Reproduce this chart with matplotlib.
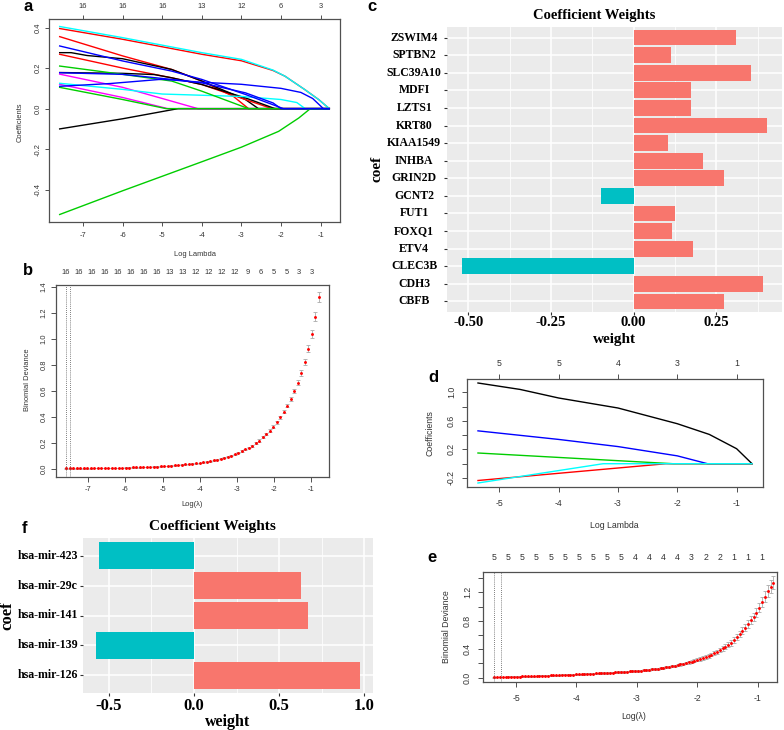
import numpy as np
from matplotlib import pyplot as plt

plt.rcParams['font.family'] = ['Liberation Sans', 'DejaVu Sans']
plt.rcParams['axes.unicode_minus'] = False

W, H = 784, 730

# ---------------- panel a: lasso coefficient paths (mRNA) ----------------
a_loglam = [
    [-7.59, -6, -4.76, -4, -3.2, -2.82],
    [-7.59, -7.3, -6.9, -6, -4.76, -4, -2.9, -2.57],
    [-7.59, -6, -4.76, -4, -2.9, -2.23],
    [-7.59, -6, -5.2, -4.76, -4, -2.9, -2.15],
    [-7.59, -6, -5, -4.1],
    [-7.59, -6, -4.86],
    [-7.59, -6, -5, -3, -2, -1.6, -1.39],
    [-7.59, -6, -4.6],
    [-7.59, -6, -4, -3, -2.2, -1.9, -1.4, -1.05, -0.78],
    [-7.59, -6, -4, -3, -2.2, -1.9, -1.4, -1.05, -0.78],
    [-7.59, -6, -4.9],
    [-7.59, -6, -4.76, -4, -2.82],
    [-7.59, -6, -4, -3, -2.06, -1.55, -1.26],
    [-7.59, -6, -4.76, -4, -2.9, -1.94],
    [-7.59, -6, -4.76, -4, -2.9, -2.2, -2.0],
    [-7.59, -6.3, -5, -4, -3, -2, -1.5, -1.2, -0.93],
]
a_coef = [
    [0.355, 0.26, 0.193, 0.136, 0.06, 0],
    [0.276, 0.276, 0.262, 0.246, 0.193, 0.136, 0.045, 0],
    [0.268, 0.2, 0.152, 0.119, 0.045, 0],
    [0.178, 0.174, 0.168, 0.152, 0.119, 0.053, 0],
    [0.17, 0.105, 0.05, 0],
    [0.12, 0.055, 0],
    [0.125, 0.095, 0.072, 0.06, 0.045, 0.03, 0],
    [-0.1, -0.05, 0],
    [0.395, 0.342, 0.268, 0.236, 0.188, 0.16, 0.094, 0.045, 0],
    [0.405, 0.35, 0.276, 0.243, 0.19, 0.16, 0.094, 0.045, 0],
    [0.105, 0.045, 0],
    [0.21, 0.169, 0.136, 0.086, 0],
    [-0.522, -0.405, -0.262, -0.19, -0.112, -0.046, 0],
    [0.309, 0.235, 0.185, 0.144, 0.07, 0],
    [0.177, 0.169, 0.144, 0.127, 0.078, 0.028, 0],
    [0.11, 0.124, 0.145, 0.13, 0.12, 0.1, 0.08, 0.05, 0],
]
a_colors = ['red', 'black', 'red', 'black', 'magenta', 'magenta', 'cyan', 'black',
            'red', 'cyan', '#00CD00', '#00CD00', '#00CD00', 'blue', 'blue', 'blue']
a_lam_max = -0.78
a_top_at = [-7, -6, -5, -4, -3, -2, -1]
a_top_labels = ['16', '16', '16', '13', '12', '6', '3']

# ---------------- panel b: cross-validation curve (mRNA) ----------------
b_lam_range = (-7.59, -0.80)
b_dev = [0.004, 0.004, 0.004, 0.004, 0.005, 0.005, 0.005, 0.005, 0.006, 0.006,
         0.006, 0.007, 0.007, 0.008, 0.008, 0.009, 0.009, 0.010, 0.011, 0.012,
         0.012, 0.013, 0.014, 0.015, 0.016, 0.018, 0.019, 0.020, 0.022, 0.024,
         0.026, 0.028, 0.030, 0.033, 0.036, 0.038, 0.041, 0.044, 0.047, 0.051,
         0.056, 0.061, 0.067, 0.072, 0.079, 0.086, 0.094, 0.103, 0.113, 0.125,
         0.137, 0.150, 0.164, 0.180, 0.198, 0.219, 0.243, 0.268, 0.296, 0.326,
         0.360, 0.397, 0.440, 0.488, 0.540, 0.600, 0.665, 0.740, 0.825, 0.925,
         1.040, 1.170, 1.320]
b_err = [0.002, 0.002, 0.002, 0.002, 0.002, 0.002, 0.002, 0.002, 0.002, 0.002,
         0.002, 0.002, 0.002, 0.002, 0.002, 0.002, 0.002, 0.002, 0.002, 0.002,
         0.002, 0.002, 0.002, 0.002, 0.002, 0.002, 0.002, 0.002, 0.002, 0.002,
         0.003, 0.003, 0.003, 0.003, 0.003, 0.003, 0.003, 0.003, 0.003, 0.003,
         0.003, 0.004, 0.004, 0.004, 0.004, 0.004, 0.004, 0.004, 0.005, 0.005,
         0.006, 0.006, 0.006, 0.007, 0.007, 0.008, 0.008, 0.009, 0.010, 0.010,
         0.011, 0.012, 0.013, 0.014, 0.016, 0.017, 0.019, 0.021, 0.023, 0.026,
         0.029, 0.034, 0.038]
b_top_labels = '16 16 16 16 16 16 16 16 13 13 12 12 12 12 9 6 5 5 3 3'.split()
b_top_last = -0.98
b_vlines = [-7.59, -7.49]

# ---------------- panel c: mRNA coefficient weights ----------------
c_genes = ['CBFB', 'CDH3', 'CLEC3B', 'ETV4', 'FOXQ1', 'FUT1', 'GCNT2', 'GRIN2D',
           'INHBA', 'KIAA1549', 'KRT80', 'LZTS1', 'MDFI', 'SLC39A10', 'SPTBN2', 'ZSWIM4']
c_weights = [0.274, 0.391, -0.519, 0.179, 0.115, 0.124, -0.100, 0.272,
             0.209, 0.105, 0.403, 0.173, 0.173, 0.355, 0.112, 0.309]
c_ticks = [-0.50, -0.25, 0.00, 0.25]
c_tick_labels = ['-0.50', '-0.25', '0.00', '0.25']

# ---------------- panel d: lasso coefficient paths (miRNA) ----------------
d_loglam = [
    [-5.36, -4.65, -4, -3, -2, -1.46, -1, -0.74],
    [-5.36, -4, -3, -2, -1.49],
    [-5.36, -2.07],
    [-5.36, -2.19],
    [-5.36, -3.25],
]
d_coef = [
    [1.13, 1.04, 0.92, 0.78, 0.56, 0.41, 0.21, 0],
    [0.46, 0.34, 0.24, 0.11, 0],
    [0.15, 0],
    [-0.235, 0],
    [-0.27, 0],
]
d_colors = ['black', 'blue', '#00CD00', 'red', 'cyan']
d_lam_max = -0.74
d_top_at = [-5, -4, -3, -2, -1]
d_top_labels = ['5', '5', '4', '3', '1']

# ---------------- panel e: cross-validation curve (miRNA) ----------------
e_lam_range = (-5.36, -0.74)
e_dev = [0.008, 0.009, 0.010, 0.011, 0.012, 0.013, 0.014, 0.015, 0.016, 0.017,
         0.018, 0.019, 0.021, 0.022, 0.023, 0.025, 0.026, 0.028, 0.029, 0.031,
         0.032, 0.034, 0.036, 0.037, 0.039, 0.041, 0.042, 0.044, 0.045, 0.047,
         0.049, 0.051, 0.053, 0.055, 0.057, 0.059, 0.061, 0.063, 0.065, 0.067,
         0.069, 0.071, 0.073, 0.076, 0.078, 0.081, 0.083, 0.086, 0.089, 0.091,
         0.094, 0.097, 0.101, 0.104, 0.108, 0.112, 0.117, 0.122, 0.127, 0.133,
         0.139, 0.146, 0.153, 0.161, 0.169, 0.177, 0.186, 0.195, 0.205, 0.215,
         0.226, 0.238, 0.250, 0.264, 0.278, 0.293, 0.309, 0.326, 0.345, 0.365,
         0.387, 0.411, 0.437, 0.463, 0.490, 0.530, 0.570, 0.613, 0.658, 0.705,
         0.755, 0.805, 0.855, 0.915, 0.985, 1.060, 1.140, 1.215, 1.280, 1.335]
e_err = [0.005, 0.005, 0.005, 0.005, 0.005, 0.005, 0.005, 0.005, 0.006, 0.006,
         0.006, 0.006, 0.006, 0.006, 0.006, 0.006, 0.006, 0.007, 0.007, 0.007,
         0.007, 0.007, 0.007, 0.007, 0.007, 0.008, 0.008, 0.008, 0.008, 0.008,
         0.008, 0.008, 0.008, 0.009, 0.009, 0.009, 0.009, 0.009, 0.009, 0.010,
         0.010, 0.010, 0.010, 0.010, 0.010, 0.011, 0.011, 0.011, 0.011, 0.011,
         0.011, 0.012, 0.012, 0.012, 0.012, 0.013, 0.013, 0.013, 0.014, 0.014,
         0.014, 0.015, 0.015, 0.016, 0.016, 0.017, 0.017, 0.018, 0.018, 0.019,
         0.020, 0.021, 0.022, 0.023, 0.024, 0.025, 0.026, 0.027, 0.028, 0.029,
         0.030, 0.032, 0.034, 0.036, 0.038, 0.040, 0.043, 0.045, 0.048, 0.051,
         0.054, 0.057, 0.060, 0.064, 0.068, 0.073, 0.078, 0.083, 0.088, 0.092]
e_top_labels = '5 5 5 5 5 5 5 5 5 5 4 4 4 4 3 2 2 1 1 1'.split()
e_vlines = [-5.36, -5.25]

# ---------------- panel f: miRNA coefficient weights ----------------
f_mirs = ['hsa-mir-126', 'hsa-mir-139', 'hsa-mir-141', 'hsa-mir-29c', 'hsa-mir-423']
f_weights = [0.975, -0.575, 0.673, 0.628, -0.561]
f_ticks = [-0.5, 0.0, 0.5, 1.0]
f_tick_labels = ['-0.5', '0.0', '0.5', '1.0']


fig = plt.figure(figsize=(W / 100, H / 100), dpi=100)


def px_axes(l, t, r, b):
    return fig.add_axes([l / W, 1 - b / H, (r - l) / W, (b - t) / H])


def ftext(x, y, s, **kw):
    fig.text(x / W, 1 - y / H, s, **kw)


RGRAY = '#505050'
SERIF = ['Liberation Serif', 'DejaVu Serif']


def r_style(ax, fs, tlen, xpad, ypad, top=False):
    for s in ax.spines.values():
        s.set_color(RGRAY)
        s.set_linewidth(0.9)
    ax.tick_params(direction='out', length=tlen, width=0.7, color=RGRAY,
                   labelcolor='#333333', labelsize=fs, top=top)
    ax.tick_params(axis='x', pad=xpad)
    ax.tick_params(axis='y', pad=ypad)


def r_yticks(ax, ticks, labels):
    ax.set_yticks(ticks, labels, rotation=90, va='center')


def top_labels(ax, xs, labels, off_px, fs):
    for x, s in zip(xs, labels):
        ax.annotate(s, xy=(x, 1), xycoords=ax.get_xaxis_transform(),
                    xytext=(0, off_px * 0.72), textcoords='offset points',
                    ha='center', va='center', fontsize=fs, color='#333333')


def path_plot(ax, lams, coefs, colors, lam_max):
    for xs, ys, c in zip(lams, coefs, colors):
        xs = list(xs)
        ys = list(ys)
        if xs[-1] < lam_max:
            xs.append(lam_max)
            ys.append(0)
        ax.plot(xs, ys, color=c, lw=1.0)


def cv_plot(ax, lam_range, dev, err, vlines):
    lam = np.linspace(lam_range[0], lam_range[1], len(dev))
    ax.errorbar(lam, dev, yerr=err, fmt='none', ecolor='#AAAAAA', elinewidth=0.6,
                capsize=1.5, capthick=0.6)
    ax.plot(lam, dev, 'o', color='red', markersize=2.1, markeredgewidth=0)
    for v in vlines:
        ax.axvline(v, color='#555555', ls=(0, (1, 1.5)), lw=0.6)
    return lam


def gg_bars(ax, names, weights, ticks, tick_labels, xlim, ylab_dx, xlab_dy,
            name_fs, tick_fs):
    pos = np.arange(1, len(names) + 1)
    cols = ['#F8766D' if w > 0 else '#00BFC4' for w in weights]
    ax.set_facecolor('#EBEBEB')
    for s in ax.spines.values():
        s.set_visible(False)
    ax.set_axisbelow(True)
    ax.barh(pos, weights, height=0.9, color=cols)
    ax.set_xlim(*xlim)
    ax.set_ylim(0.4, len(names) + 0.6)
    ax.set_xticks(ticks)
    minors = [(ticks[i] + ticks[i + 1]) / 2 for i in range(len(ticks) - 1)]
    step = ticks[1] - ticks[0]
    minors = [ticks[0] - step / 2] + minors + [ticks[-1] + step / 2]
    ax.set_xticks([m for m in minors if xlim[0] < m < xlim[1]], minor=True)
    ax.set_yticks(pos)
    ax.grid(True, which='major', color='white', lw=1.1)
    ax.grid(True, which='minor', axis='x', color='white', lw=0.55)
    ax.tick_params(which='major', length=2.5, width=0.8, color='#333333',
                   labelbottom=False, labelleft=False)
    ax.tick_params(which='minor', length=0)
    for p, n in zip(pos, names):
        ax.annotate(n, xy=(0, p), xycoords=ax.get_yaxis_transform(),
                    xytext=(-ylab_dx * 0.72, 0), textcoords='offset points',
                    ha='center', va='center', fontsize=name_fs, fontweight='bold',
                    family=SERIF)
    for t, s in zip(ticks, tick_labels):
        ax.annotate(s, xy=(t, 0), xycoords=ax.get_xaxis_transform(),
                    xytext=(0, -xlab_dy * 0.72), textcoords='offset points',
                    ha='center', va='center', fontsize=tick_fs, fontweight='bold',
                    family=SERIF)


# ---- a
ax = px_axes(49, 19, 340, 222)
path_plot(ax, a_loglam, a_coef, a_colors, a_lam_max)
ax.set_xlim(-7.86, -0.51)
ax.set_ylim(-0.559, 0.442)
ax.set_xticks(a_top_at)
r_yticks(ax, [-0.4, -0.2, 0.0, 0.2, 0.4], ['-0.4', '-0.2', '0.0', '0.2', '0.4'])
r_style(ax, 5.4, 2.9, 4.5, 2.2, top=True)
top_labels(ax, a_top_at, a_top_labels, 13, 5.4)
ftext(194.7, 254, 'Log Lambda', ha='center', va='center', fontsize=5.4, color='#333333')
ftext(20, 122.7, 'Coefficients', ha='center', va='center', fontsize=5.4,
      rotation=90, color='#333333')

# ---- b
ax = px_axes(56, 285, 329, 477)
lam_b = cv_plot(ax, b_lam_range, b_dev, b_err, b_vlines)
ax.set_xlim(-7.86, -0.53)
ax.set_ylim(-0.0615, 1.415)
ax.set_xticks([-7, -6, -5, -4, -3, -2, -1])
yt = [0.0, 0.2, 0.4, 0.6, 0.8, 1.0, 1.2, 1.4]
r_yticks(ax, yt, ['%.1f' % v for v in yt])
r_style(ax, 5.4, 3.3, 3.2, 2.7)
top_labels(ax, np.linspace(lam_b[0], b_top_last, len(b_top_labels)), b_top_labels, 12, 5.4)
ftext(192.5, 504, 'Log(\u03bb)', ha='center', va='center', fontsize=5.4, color='#333333')
ftext(27.7, 380, 'Binomial Deviance', ha='center', va='center', fontsize=5.4,
      rotation=90, color='#333333')

# ---- c
ax = px_axes(447, 27, 782, 312)
gg_bars(ax, c_genes, c_weights, c_ticks, c_tick_labels, (-0.565, 0.449),
        447 - 414.3, 10.5, 8.5, 10.5)
ftext(593.7, 15.7, 'Coefficient Weights', ha='center', va='center', fontsize=10.5,
      fontweight='bold', family=SERIF)
ftext(614.5, 339, 'weight', ha='center', va='center', fontsize=11,
      fontweight='bold', family=SERIF)
ftext(377, 169, 'coef', ha='center', va='center', fontsize=11, rotation=90,
      fontweight='bold', family=SERIF)

# ---- d
ax = px_axes(467, 379, 763, 487)
path_plot(ax, d_loglam, d_coef, d_colors, d_lam_max)
ax.set_xlim(-5.545, -0.555)
ax.set_ylim(-0.326, 1.186)
ax.set_xticks(d_top_at)
r_yticks(ax, [-0.2, 0.0, 0.2, 0.4, 0.6, 0.8, 1.0], ['-0.2', '', '0.2', '', '0.6', '', '1.0'])
r_style(ax, 6.3, 3.6, 5.4, 4.3, top=True)
top_labels(ax, d_top_at, d_top_labels, 16, 6.3)
ftext(614.7, 525, 'Log Lambda', ha='center', va='center', fontsize=6.3, color='#333333')
ftext(430, 433.3, 'Coefficients', ha='center', va='center', fontsize=6.3,
      rotation=90, color='#333333')

# ---- e
ax = px_axes(483, 572, 777, 682)
lam_e = cv_plot(ax, e_lam_range, e_dev, e_err, e_vlines)
ax.set_xlim(-5.546, -0.68)
ax.set_ylim(-0.06, 1.485)
ax.set_xticks([-5, -4, -3, -2, -1])
yt = [0.0, 0.2, 0.4, 0.6, 0.8, 1.0, 1.2, 1.4]
r_yticks(ax, yt, ['0.0', '', '0.4', '', '0.8', '', '1.2', ''])
r_style(ax, 6.3, 3.6, 5.2, 4.3)
top_labels(ax, lam_e[::5], e_top_labels, 14, 6.3)
ftext(633.3, 716.7, 'Log(\u03bb)', ha='center', va='center', fontsize=6.3, color='#333333')
ftext(446.7, 626.7, 'Binomial Deviance', ha='center', va='center', fontsize=6.3,
      rotation=90, color='#333333')

# ---- f
ax = px_axes(83, 538, 373, 693)
gg_bars(ax, f_mirs, f_weights, f_ticks, f_tick_labels, (-0.6525, 1.0525),
        83 - 47.5, 12.5, 8.6, 12)
ftext(212.8, 526.7, 'Coefficient Weights', ha='center', va='center', fontsize=11,
      fontweight='bold', family=SERIF)
ftext(228, 722, 'weight', ha='center', va='center', fontsize=11.5,
      fontweight='bold', family=SERIF)
ftext(7, 616, 'coef', ha='center', va='center', fontsize=12, rotation=90,
      fontweight='bold', family=SERIF)

# panel letters
for x, y, s in [(23, 11, 'a'), (23, 275, 'b'), (367, 11, 'c'),
                (428, 382, 'd'), (427, 562, 'e'), (22, 533, 'f')]:
    ftext(x, y, s, ha='left', va='baseline', fontsize=12, fontweight='bold')

fig.savefig('out.png', dpi=100)
